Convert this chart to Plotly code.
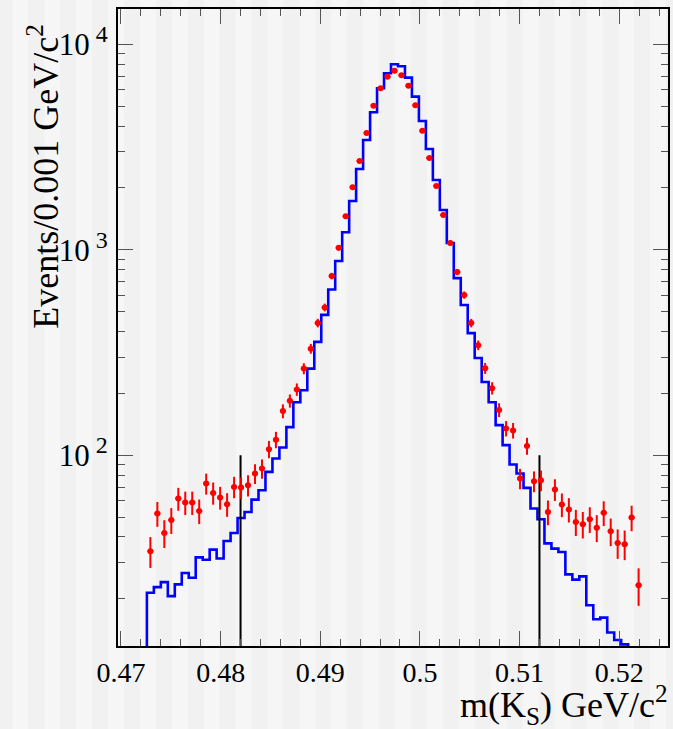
import numpy as np
import plotly.graph_objects as go

# ---------------- data ----------------
BIN_LO = 0.4726      # lower edge of first bin
BIN_W = 0.0007       # bin width

data_counts = [34.1, 52.0, 41.8, 48.3, 61.5, 58.8, 58.8, 53.5, 72.8, 65.5,
               62.2, 57.7, 70.1, 69.6, 71.4, 81.4, 86.1, 107, 119, 164,
               184, 209, 264, 330, 440, 524, 745, 1023, 1454, 2013,
               2704, 3700, 5028, 6111, 6961, 7446, 7071, 6293, 5050, 3799,
               2797, 2043, 1476, 1078, 779, 602, 440, 343, 265, 212,
               166, 135, 132, 77.0, 111, 74.7, 75.5, 52.9, 68.1, 57.5,
               54.4, 47.3, 46.1, 48.8, 44.4, 52.4, 42.6, 37.4, 36.9, 49.7,
               23.3]

mc_counts = [21.4, 22.8, 24.1, 20.6, 23.5, 26.7, 25.3, 31.8, 31.0, 34.7,
             31.4, 38.2, 41.8, 49.5, 52.9, 60.8, 67.5, 82.9, 96.4, 109,
             137, 181, 207, 264, 356, 482, 641, 881, 1216, 1727,
             2472, 3420, 4670, 6111, 7233, 7998, 7822, 6882, 5564, 4236,
             3094, 2185, 1561, 1078, 728, 538, 393, 297, 227, 181,
             140, 112, 90.1, 81.4, 69.3, 55.0, 48.8, 37.2, 35.1, 33.8,
             26.3, 24.8, 25.7, 18.6, 15.9, 16.2, 13.7, 12.6, 12.0, 10.5,
             9.5]

cut_lines = [0.482, 0.512]
cut_top = 100

x_tickvals = [0.47, 0.48, 0.49, 0.50, 0.51, 0.52]
x_ticktext = ["0.47", "0.48", "0.49", "0.5", "0.51", "0.52"]
y_tickvals = [100, 1000, 10000]
y_exponents = ["2", "3", "4"]

x_title = "m(K<sub>S</sub>) GeV/c<sup>2</sup>"
y_title = "Events/0.001 GeV/c<sup>2</sup>"

# ---------------- derived ----------------
n = len(data_counts)
edges = BIN_LO + BIN_W * np.arange(n + 1)
centers = edges[:-1] + BIN_W / 2
data_err = np.sqrt(np.array(data_counts))
y_ticktext = ["10<sup><span style='font-size:24px'> %s</span></sup>" % e for e in y_exponents]

FONT = "Liberation Serif"
W, H = 673, 729
ML, MR, MT, MB = 118, 3, 9, 83
PW = W - ML - MR
PH = H - MT - MB

fig = go.Figure()

# MC histogram (step line)
step_x = [edges[0]] + list(edges[:-1]) + [edges[-1]]
step_y = [1.0] + list(mc_counts) + [mc_counts[-1]]
fig.add_trace(go.Scatter(x=step_x, y=step_y, mode="lines", line_shape="hv",
                         line=dict(color="#0000ff", width=2.6),
                         hoverinfo="skip", showlegend=False))

# cut lines
for xc in cut_lines:
    fig.add_trace(go.Scatter(x=[xc, xc], y=[1.0, cut_top], mode="lines",
                             line=dict(color="black", width=2),
                             hoverinfo="skip", showlegend=False))

# data points
fig.add_trace(go.Scatter(x=centers, y=data_counts, mode="markers",
                         marker=dict(color="#ff0000", size=6, symbol="circle"),
                         error_y=dict(type="data", array=data_err, color="#ff0000",
                                      thickness=2, width=0),
                         error_x=dict(type="constant", value=BIN_W * 0.43, color="#ff0000",
                                      thickness=2, width=0),
                         showlegend=False))

# background stripes
shapes = []
STRIPE_PERIOD = 32
STRIPE_W = 16
for k in range(-1, 23):
    x0p = -4 + STRIPE_PERIOD * k
    shapes.append(dict(type="rect", xref="paper", yref="paper",
                       x0=(x0p - ML) / PW, x1=(x0p + STRIPE_W - ML) / PW,
                       y0=-0.3, y1=1.2, fillcolor="#f1f1f1", line=dict(width=0),
                       layer="below"))

axis_common = dict(showline=True, linecolor="black", linewidth=2, mirror="allticks",
                   ticks="inside", tickcolor="#555555", tickwidth=1,
                   showgrid=False, zeroline=False)

fig.update_layout(
    width=W, height=H,
    margin=dict(l=ML, r=MR, t=MT, b=MB, pad=0),
    paper_bgcolor="#f6f6f6",
    plot_bgcolor="rgba(0,0,0,0)",
    shapes=shapes,
    xaxis=dict(range=[0.4697, 0.5249], tickvals=x_tickvals, ticktext=x_ticktext,
               ticklen=15, ticklabelstandoff=0,
               tickfont=dict(family=FONT, size=28, color="black"),
               minor=dict(ticks="inside", ticklen=7, dtick=0.002, tick0=0.47,
                          tickcolor="#555555", tickwidth=1, showgrid=False),
               **axis_common),
    yaxis=dict(type="log", range=[np.log10(11.78), np.log10(14860)],
               tickvals=y_tickvals, ticktext=y_ticktext, ticklen=15,
               ticklabelstandoff=2,
               tickfont=dict(family=FONT, size=31, color="black"),
               minor=dict(ticks="inside", ticklen=7, dtick="D1",
                          tickcolor="#555555", tickwidth=1, showgrid=False),
               **axis_common),
    annotations=[
        dict(text=x_title, xref="paper", yref="paper", x=1.003, y=-0.0925,
             xanchor="right", yanchor="middle", showarrow=False,
             font=dict(family=FONT, size=36, color="black")),
        dict(text=y_title, xref="paper", yref="paper", x=(43 - ML) / PW, y=(H - MB - 22) / PH,
             xanchor="center", yanchor="top", textangle=-90, showarrow=False,
             font=dict(family=FONT, size=36, color="black")),
    ],
)

fig.write_html("out.html", config={"displayModeBar": False},
               post_script="document.body.style.margin='0';document.body.style.padding='0';")
